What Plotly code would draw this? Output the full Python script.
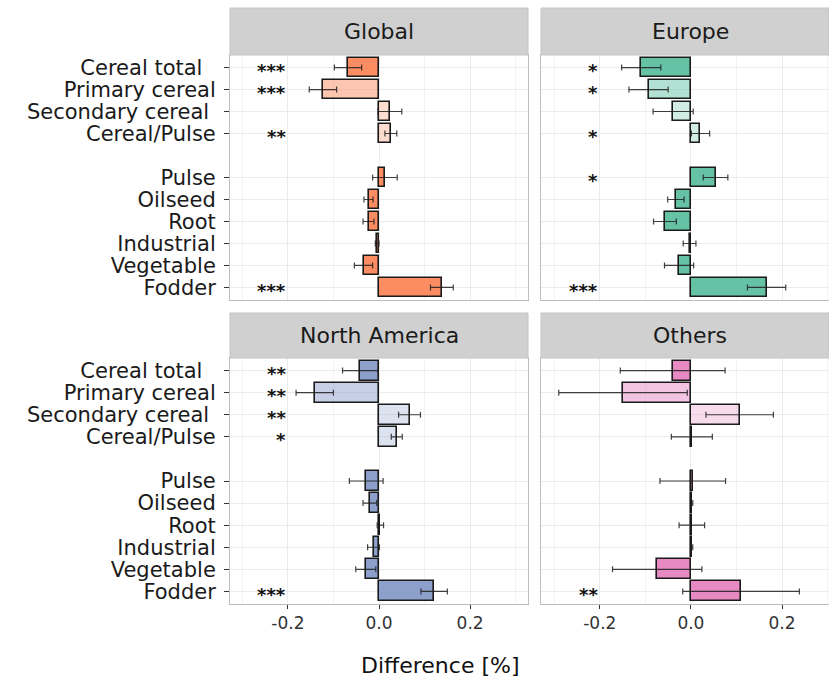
import plotly.graph_objects as go

# ---------------- data ----------------
categories = ["Cereal total", "Primary cereal", "Secondary cereal", "Cereal/Pulse",
              "Pulse", "Oilseed", "Root", "Industrial", "Vegetable", "Fodder"]
tick_labels = ["Cereal total\u00a0\u00a0", "Primary cereal", "Secondary cereal\u00a0", "Cereal/Pulse",
               "Pulse", "Oilseed", "Root", "Industrial", "Vegetable", "Fodder"]
regions = ["Global", "Europe", "North America", "Others"]

global_val = [-0.068, -0.123, 0.024, 0.026, 0.013, -0.023, -0.023, -0.004, -0.034, 0.138]
global_err = [0.030, 0.030, 0.026, 0.013, 0.027, 0.010, 0.012, 0.004, 0.020, 0.025]
global_sig = ["***", "***", "", "**", "", "", "", "", "", "***"]

europe_val = [-0.109, -0.093, -0.039, 0.021, 0.054, -0.033, -0.057, -0.003, -0.026, 0.166]
europe_err = [0.043, 0.043, 0.044, 0.020, 0.027, 0.018, 0.025, 0.014, 0.032, 0.042]
europe_sig = ["*", "*", "", "*", "*", "", "", "", "", "***"]

na_val = [-0.041, -0.141, 0.067, 0.039, -0.028, -0.020, 0.003, -0.012, -0.029, 0.121]
na_err = [0.039, 0.041, 0.024, 0.012, 0.037, 0.015, 0.007, 0.013, 0.022, 0.029]
na_sig = ["**", "**", "**", "*", "", "", "", "", "", "***"]

others_val = [-0.040, -0.149, 0.107, 0.002, 0.004, 0.002, 0.002, 0.002, -0.074, 0.110]
others_err = [0.115, 0.141, 0.074, 0.045, 0.072, 0.002, 0.028, 0.002, 0.098, 0.128]
others_sig = ["", "", "", "", "", "", "", "", "", "**"]

x_ticks = [-0.2, 0.0, 0.2]
x_tick_text = ["-0.2", "0.0", "0.2"]

# ---------------- styles ----------------
W, H = 829, 689
FONT = "DejaVu Sans"
base_colors = ["#FC8D62", "#66C2A5", "#8DA0CB", "#E78AC3"]
cat_alpha = [1.0, 0.5, 0.3, 0.3, 1.0, 1.0, 1.0, 1.0, 1.0, 1.0]

# slot positions (gap between Cereal/Pulse and Pulse)
positions = [i if i < 4 else i + 1 for i in range(len(categories))]


def rgba(hexc, a):
    h = hexc.lstrip("#")
    r, g, b = int(h[0:2], 16), int(h[2:4], 16), int(h[4:6], 16)
    return f"rgba({r},{g},{b},{a})"


# panel geometry in pixels: (x0, x1, y_top, y_bottom, strip_top)
panels_px = [
    (230, 528, 55, 300, 8),
    (541, 829, 55, 300, 8),
    (230, 528, 358, 604, 313),
    (541, 829, 358, 604, 313),
]
x_ranges = [[-0.327, 0.327], [-0.329, 0.303], [-0.327, 0.327], [-0.329, 0.303]]

vals = [global_val, europe_val, na_val, others_val]
errs = [global_err, europe_err, na_err, others_err]
sigs = [global_sig, europe_sig, na_sig, others_sig]

fig = go.Figure()
shapes = []
annotations = []
layout_axes = {}

for k in range(4):
    xa = "x" if k == 0 else f"x{k+1}"
    ya = "y" if k == 0 else f"y{k+1}"
    fills = [rgba(base_colors[k], a) for a in cat_alpha]
    fig.add_trace(go.Bar(
        orientation="h", x=vals[k], y=positions, width=0.9,
        marker=dict(color=fills, line=dict(color="#1a1a1a", width=1.6)),
        error_x=dict(type="data", array=errs[k], color="rgba(30,30,30,0.85)",
                     thickness=1.2, width=3),
        xaxis=xa, yaxis=ya, showlegend=False, hoverinfo="x+y",
    ))
    x0, x1, yt, yb, st = panels_px[k]
    bottom = k >= 2
    left = k % 2 == 0
    xkey = "xaxis" if k == 0 else f"xaxis{k+1}"
    ykey = "yaxis" if k == 0 else f"yaxis{k+1}"
    layout_axes[xkey] = dict(
        domain=[x0 / W, x1 / W], range=x_ranges[k], anchor=ya,
        tickvals=x_ticks, ticktext=x_tick_text,
        showticklabels=bottom, ticks="outside" if bottom else "",
        ticklen=4, tickcolor="#333333", tickwidth=1,
        tickfont=dict(family=FONT, size=17, color="#333333"),
        showgrid=True, gridcolor="#EBEBEB", gridwidth=1,
        minor=dict(tickvals=[-0.3, -0.1, 0.1, 0.3], showgrid=True,
                   gridcolor="#F3F3F3", gridwidth=0.6),
        zeroline=False, showline=True, mirror=True, linecolor="#BDBDBD", linewidth=1,
        fixedrange=True,
    )
    layout_axes[ykey] = dict(
        domain=[1 - yb / H, 1 - yt / H], range=[10.57, -0.57], anchor=xa,
        tickvals=positions, ticktext=tick_labels,
        showticklabels=left, ticks="outside" if left else "",
        ticklen=5, tickcolor="#333333", tickwidth=1, ticklabelstandoff=4,
        tickfont=dict(family=FONT, size=21, color="#1a1a1a"),
        showgrid=True, gridcolor="#EBEBEB", gridwidth=1,
        zeroline=False, showline=True, mirror=True, linecolor="#BDBDBD", linewidth=1,
        fixedrange=True,
    )
    # strip
    shapes.append(dict(type="rect", xref="paper", yref="paper",
                       x0=x0 / W, x1=x1 / W, y0=1 - yt / H, y1=1 - st / H,
                       fillcolor="#D0D0D0", line=dict(color="#C4C4C4", width=1), layer="above"))
    annotations.append(dict(xref="paper", yref="paper",
                            x=((x0 + (x1 if k % 2 == 0 else 839)) / 2) / W,
                            y=1 - ((yt + st) / 2) / H,
                            text=regions[k], showarrow=False, xanchor="center", yanchor="middle",
                            font=dict(family=FONT, size=22, color="#1a1a1a")))
    # significance stars
    for i, s in enumerate(sigs[k]):
        if s:
            annotations.append(dict(xref=xa, yref=ya, x=-0.2, y=positions[i], text="<b>" + s + "</b>",
                                    showarrow=False, xanchor="right", yanchor="middle",
                                    yshift=-3,
                                    font=dict(family=FONT, size=18, color="#111111")))

annotations.append(dict(xref="paper", yref="paper", x=440 / W, y=1 - 665 / H,
                        text="Difference [%]", showarrow=False, xanchor="center", yanchor="middle",
                        font=dict(family=FONT, size=22, color="#111111")))

fig.update_layout(
    width=W, height=H, margin=dict(l=0, r=0, t=0, b=0, autoexpand=False),
    paper_bgcolor="white", plot_bgcolor="white",
    bargap=0, shapes=shapes, annotations=annotations,
    **layout_axes,
)

fig.write_html("out.html")
